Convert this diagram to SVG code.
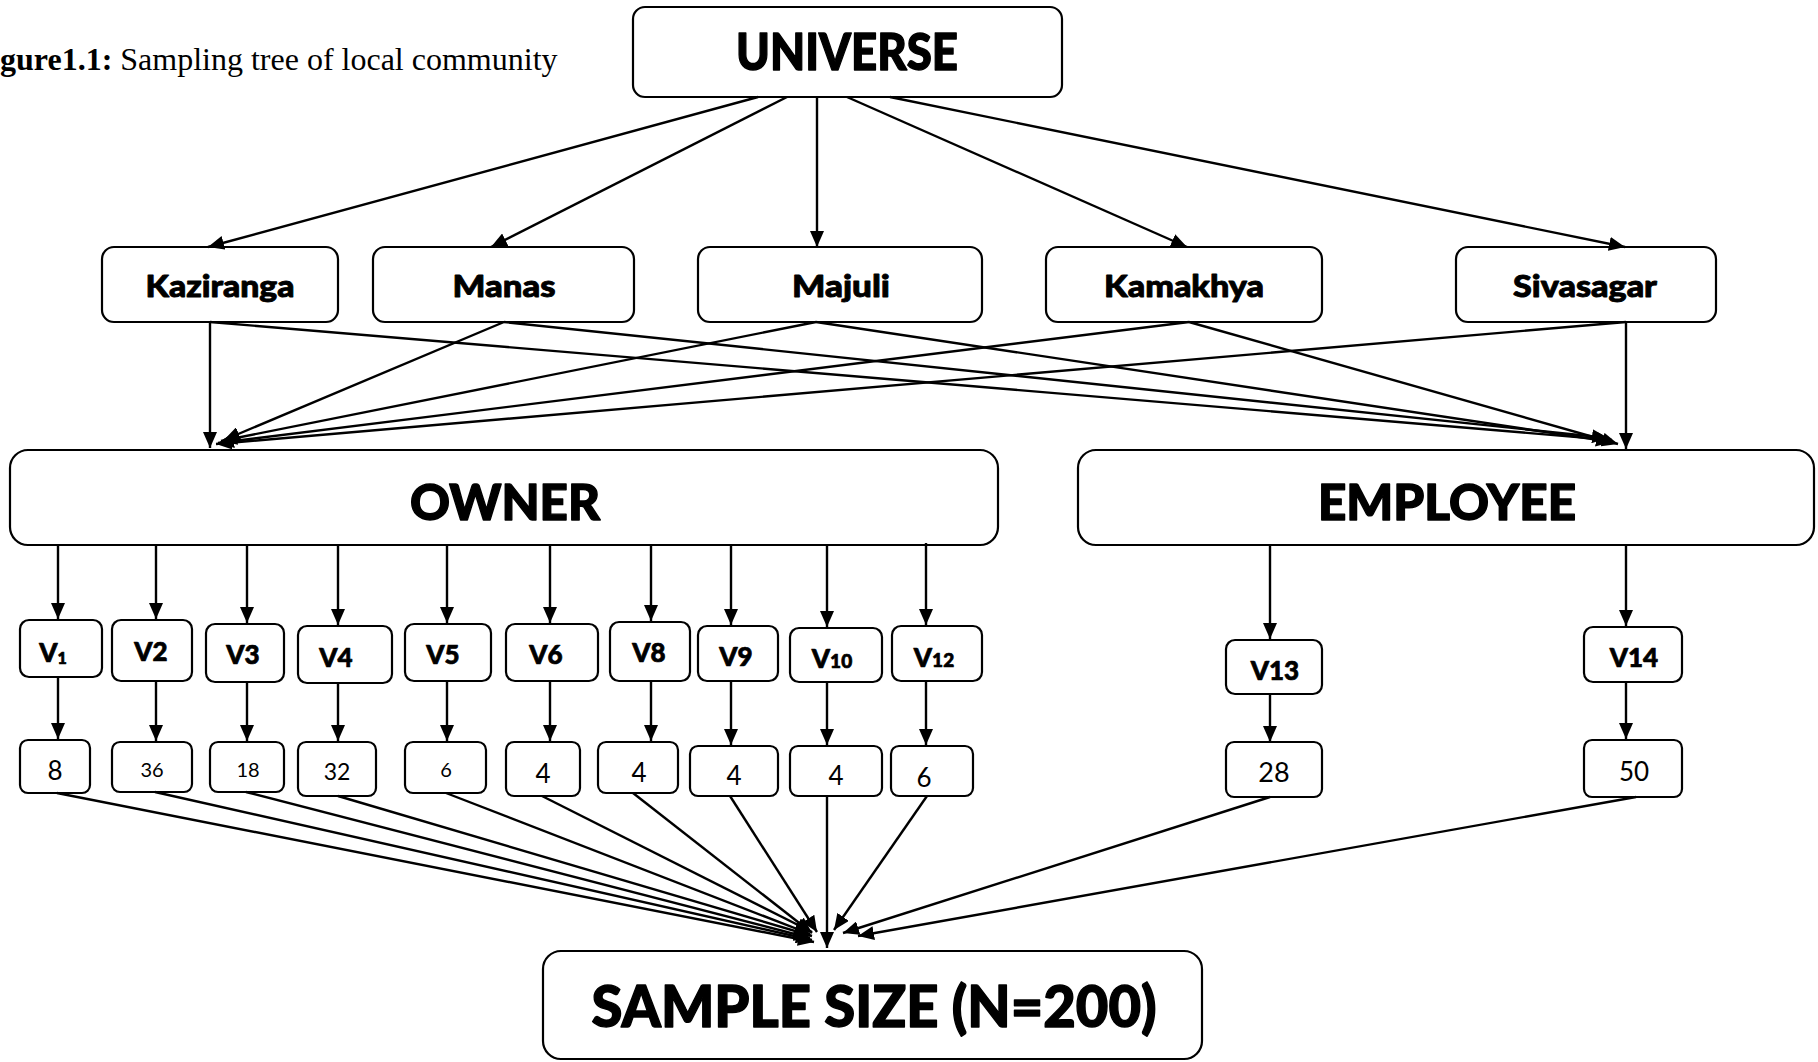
<svg xmlns="http://www.w3.org/2000/svg" width="1818" height="1062" viewBox="0 0 1818 1062">
  <defs>
    <marker id="arrow" markerUnits="userSpaceOnUse" markerWidth="16" markerHeight="14" refX="16" refY="7" orient="auto">
      <path d="M0,0 L16,7 L0,14 z" fill="#000"/>
    </marker>
  </defs>
  <style>
    .box { fill: #fff; stroke: #000; stroke-width: 2.2; }
    .lbl { font-family: Lato, "Open Sans", sans-serif; font-weight: 900; fill: #000; stroke: #000; stroke-width: 1.4; stroke-linejoin: round; text-anchor: middle; }
    .lbl.sm { stroke-width: 0.9; }
    .num { font-family: Lato, "Open Sans", sans-serif; font-weight: 400; fill: #000; text-anchor: middle; }
    .v { font-family: Lato, "Open Sans", sans-serif; font-weight: 900; fill: #000; stroke: #000; stroke-width: 0.7; stroke-linejoin: round; font-size: 26px; text-anchor: middle; }
    .edges line { stroke: #000; stroke-width: 2.4; marker-end: url(#arrow); }
    .cap { font-family: "Liberation Serif", "Times New Roman", serif; font-size: 32px; fill: #000; }
  </style>
  <rect width="1818" height="1062" fill="#fff"/>

  <!-- caption -->
  <text class="cap" x="0" y="70"><tspan font-weight="700">gure1.1:</tspan> Sampling tree of local community</text>

  <!-- top level -->
  <g id="universe">
    <rect class="box" x="633" y="7" width="429" height="90" rx="12"/>
    <text class="lbl" x="847" y="70" font-size="52" textLength="222" lengthAdjust="spacingAndGlyphs">UNIVERSE</text>
  </g>

  <!-- sites -->
  <g id="kaziranga">
    <rect class="box" x="102" y="247" width="236" height="75" rx="12"/>
    <text class="lbl sm" x="220" y="297" font-size="31" textLength="149" lengthAdjust="spacingAndGlyphs">Kaziranga</text>
  </g>
  <g id="manas">
    <rect class="box" x="373" y="247" width="261" height="75" rx="12"/>
    <text class="lbl sm" x="504" y="297" font-size="31" textLength="103" lengthAdjust="spacingAndGlyphs">Manas</text>
  </g>
  <g id="majuli">
    <rect class="box" x="698" y="247" width="284" height="75" rx="12"/>
    <text class="lbl sm" x="841" y="297" font-size="31" textLength="98" lengthAdjust="spacingAndGlyphs">Majuli</text>
  </g>
  <g id="kamakhya">
    <rect class="box" x="1046" y="247" width="276" height="75" rx="12"/>
    <text class="lbl sm" x="1184" y="297" font-size="31" textLength="160" lengthAdjust="spacingAndGlyphs">Kamakhya</text>
  </g>
  <g id="sivasagar">
    <rect class="box" x="1456" y="247" width="260" height="75" rx="12"/>
    <text class="lbl sm" x="1585" y="297" font-size="31" textLength="144" lengthAdjust="spacingAndGlyphs">Sivasagar</text>
  </g>

  <!-- respondent groups -->
  <g id="owner">
    <rect class="box" x="10" y="450" width="988" height="95" rx="18"/>
    <text class="lbl" x="505" y="520" font-size="49" textLength="190" lengthAdjust="spacingAndGlyphs">OWNER</text>
  </g>
  <g id="employee">
    <rect class="box" x="1078" y="450" width="736" height="95" rx="18"/>
    <text class="lbl" x="1447" y="520" font-size="49" textLength="258" lengthAdjust="spacingAndGlyphs">EMPLOYEE</text>
  </g>

  <!-- village nodes -->
  <g id="v1">
    <rect class="box" x="20" y="620" width="82" height="57" rx="9"/>
    <text class="v" x="53" y="662">V<tspan font-size="16" dy="2">1</tspan></text>
  </g>
  <g id="v2">
    <rect class="box" x="112" y="620" width="80" height="61" rx="9"/>
    <text class="v" x="151" y="661">V2</text>
  </g>
  <g id="v3">
    <rect class="box" x="206" y="624" width="78" height="58" rx="9"/>
    <text class="v" x="243" y="664">V3</text>
  </g>
  <g id="v4">
    <rect class="box" x="298" y="626" width="94" height="57" rx="9"/>
    <text class="v" x="336" y="667">V4</text>
  </g>
  <g id="v5">
    <rect class="box" x="405" y="624" width="86" height="57" rx="9"/>
    <text class="v" x="443" y="664">V5</text>
  </g>
  <g id="v6">
    <rect class="box" x="506" y="624" width="92" height="57" rx="9"/>
    <text class="v" x="546" y="664">V6</text>
  </g>
  <g id="v8">
    <rect class="box" x="610" y="622" width="80" height="59" rx="9"/>
    <text class="v" x="649" y="662">V8</text>
  </g>
  <g id="v9">
    <rect class="box" x="698" y="626" width="80" height="55" rx="9"/>
    <text class="v" x="736" y="666">V9</text>
  </g>
  <g id="v10">
    <rect class="box" x="790" y="628" width="92" height="54" rx="9"/>
    <text class="v" x="832" y="668">V<tspan font-size="19">10</tspan></text>
  </g>
  <g id="v12">
    <rect class="box" x="892" y="626" width="90" height="55" rx="9"/>
    <text class="v" x="934" y="667">V<tspan font-size="19">12</tspan></text>
  </g>
  <g id="v13">
    <rect class="box" x="1226" y="640" width="96" height="54" rx="9"/>
    <text class="v" x="1275" y="680">V13</text>
  </g>
  <g id="v14">
    <rect class="box" x="1584" y="627" width="98" height="55" rx="9"/>
    <text class="v" x="1634" y="667">V14</text>
  </g>

  <!-- sample counts -->
  <g id="n8">
    <rect class="box" x="20" y="740" width="70" height="53" rx="8"/>
    <text class="num" x="55" y="780" font-size="26">8</text>
  </g>
  <g id="n36">
    <rect class="box" x="112" y="742" width="80" height="50" rx="8"/>
    <text class="num" x="152" y="777" font-size="20">36</text>
  </g>
  <g id="n18">
    <rect class="box" x="210" y="742" width="74" height="50" rx="8"/>
    <text class="num" x="248" y="777" font-size="20">18</text>
  </g>
  <g id="n32">
    <rect class="box" x="298" y="742" width="78" height="54" rx="8"/>
    <text class="num" x="337" y="780" font-size="23">32</text>
  </g>
  <g id="n6a">
    <rect class="box" x="405" y="742" width="81" height="51" rx="8"/>
    <text class="num" x="446" y="777" font-size="20">6</text>
  </g>
  <g id="n4a">
    <rect class="box" x="506" y="742" width="74" height="54" rx="8"/>
    <text class="num" x="543" y="783" font-size="26">4</text>
  </g>
  <g id="n4b">
    <rect class="box" x="598" y="742" width="80" height="51" rx="8"/>
    <text class="num" x="639" y="782" font-size="26">4</text>
  </g>
  <g id="n4c">
    <rect class="box" x="690" y="746" width="88" height="50" rx="8"/>
    <text class="num" x="734" y="785" font-size="26">4</text>
  </g>
  <g id="n4d">
    <rect class="box" x="790" y="746" width="92" height="50" rx="8"/>
    <text class="num" x="836" y="785" font-size="26">4</text>
  </g>
  <g id="n6b">
    <rect class="box" x="891" y="746" width="82" height="50" rx="8"/>
    <text class="num" x="924" y="787" font-size="26">6</text>
  </g>
  <g id="n28">
    <rect class="box" x="1226" y="742" width="96" height="55" rx="8"/>
    <text class="num" x="1274" y="782" font-size="27">28</text>
  </g>
  <g id="n50">
    <rect class="box" x="1584" y="740" width="98" height="57" rx="8"/>
    <text class="num" x="1634" y="781" font-size="26">50</text>
  </g>

  <!-- total -->
  <g id="sample">
    <rect class="box" x="543" y="951" width="659" height="108" rx="18"/>
    <text class="lbl" x="874" y="1027" font-size="58" textLength="565" lengthAdjust="spacingAndGlyphs">SAMPLE SIZE (N=200)</text>
  </g>

  <!-- connectors -->
  <g id="edges" class="edges">
    <!-- universe to sites -->
    <line x1="758" y1="97" x2="208" y2="247"/>
    <line x1="787" y1="97" x2="491" y2="247"/>
    <line x1="817" y1="97" x2="817" y2="247"/>
    <line x1="847" y1="97" x2="1187" y2="247"/>
    <line x1="890" y1="97" x2="1625" y2="247"/>

    <!-- sites to owner -->
    <line x1="210" y1="322" x2="210" y2="448"/>
    <line x1="504" y1="322" x2="224" y2="440"/>
    <line x1="816" y1="322" x2="221" y2="441"/>
    <line x1="1189" y1="322" x2="218" y2="443"/>
    <line x1="1626" y1="322" x2="216" y2="444"/>

    <!-- sites to employee -->
    <line x1="210" y1="322" x2="1612" y2="440"/>
    <line x1="504" y1="322" x2="1608" y2="438"/>
    <line x1="816" y1="322" x2="1612" y2="442"/>
    <line x1="1189" y1="322" x2="1618" y2="444"/>
    <line x1="1626" y1="322" x2="1626" y2="449"/>

    <!-- owner to villages -->
    <line x1="58" y1="545" x2="58" y2="619"/>
    <line x1="156" y1="545" x2="156" y2="619"/>
    <line x1="247" y1="545" x2="247" y2="623"/>
    <line x1="338" y1="545" x2="338" y2="625"/>
    <line x1="447" y1="545" x2="447" y2="623"/>
    <line x1="550" y1="545" x2="550" y2="623"/>
    <line x1="651" y1="545" x2="651" y2="621"/>
    <line x1="731" y1="545" x2="731" y2="625"/>
    <line x1="827" y1="545" x2="827" y2="627"/>
    <line x1="926" y1="543" x2="926" y2="625"/>

    <!-- employee to villages -->
    <line x1="1270" y1="545" x2="1270" y2="639"/>
    <line x1="1626" y1="545" x2="1626" y2="626"/>

    <!-- villages to counts -->
    <line x1="58" y1="677" x2="58" y2="739"/>
    <line x1="156" y1="681" x2="156" y2="741"/>
    <line x1="247" y1="682" x2="247" y2="741"/>
    <line x1="338" y1="683" x2="338" y2="741"/>
    <line x1="447" y1="681" x2="447" y2="741"/>
    <line x1="550" y1="681" x2="550" y2="741"/>
    <line x1="651" y1="681" x2="651" y2="741"/>
    <line x1="731" y1="681" x2="731" y2="745"/>
    <line x1="827" y1="682" x2="827" y2="745"/>
    <line x1="926" y1="681" x2="926" y2="745"/>
    <line x1="1270" y1="694" x2="1270" y2="742"/>
    <line x1="1626" y1="682" x2="1626" y2="739"/>

    <!-- counts to sample size -->
    <line x1="57" y1="793" x2="814" y2="942"/>
    <line x1="155" y1="792" x2="812" y2="940"/>
    <line x1="246" y1="792" x2="810" y2="938"/>
    <line x1="338" y1="796" x2="812" y2="936"/>
    <line x1="446" y1="793" x2="810" y2="934"/>
    <line x1="542" y1="796" x2="812" y2="932"/>
    <line x1="633" y1="793" x2="812" y2="933"/>
    <line x1="730" y1="796" x2="817" y2="932"/>
    <line x1="827" y1="796" x2="827" y2="948"/>
    <line x1="927" y1="796" x2="834" y2="930"/>
    <line x1="1270" y1="797" x2="843" y2="933"/>
    <line x1="1636" y1="797" x2="858" y2="936"/>
  </g>
</svg>
